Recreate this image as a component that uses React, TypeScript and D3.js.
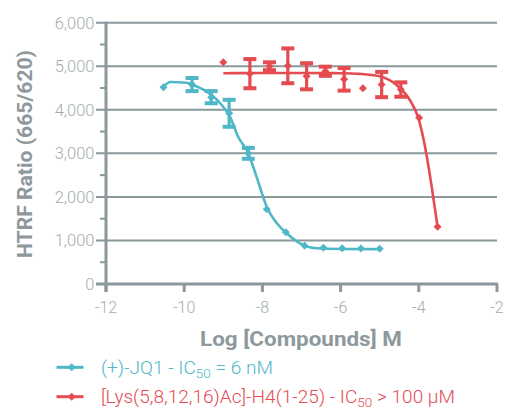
import React from "react";
import * as d3 from "d3";

// ---- data ----
const jq1X = [-10.53, -9.8, -9.31, -8.85, -8.36, -7.89, -7.4, -6.92, -6.44, -5.96, -5.48, -5.0];
const jq1Y = [4520, 4580, 4290, 3920, 3000, 1715, 1190, 880, 835, 820, 815, 810];
const jq1Err = [0, 150, 140, 310, 125, 0, 0, 0, 0, 0, 0, 0];
const jq1CurveX = [-10.53, -10.35, -9.94, -9.77, -9.3, -9.04, -8.83, -8.62, -8.36, -8.15, -7.89, -7.63, -7.38, -7.04, -6.61, -6.02, -5.0];
const jq1CurveY = [4540, 4640, 4620, 4570, 4340, 4110, 3842, 3382, 3001, 2464, 1775, 1394, 1164, 935, 820, 804, 800];

const h4X = [-9.0, -8.32, -7.82, -7.35, -6.87, -6.39, -5.91, -5.43, -4.95, -4.46, -3.99, -3.52];
const h4Y = [5090, 4830, 5000, 5010, 4770, 4885, 4700, 4495, 4580, 4465, 3820, 1315];
const h4Err = [0, 335, 90, 400, 300, 105, 260, 0, 290, 165, 0, 0];
const h4CurveX = [-9.0, -8.0, -7.0, -6.0, -5.5, -5.0, -4.57, -4.23, -4.01, -3.84, -3.67, -3.52];
const h4CurveY = [4840, 4845, 4845, 4840, 4825, 4770, 4570, 4225, 3805, 3153, 2234, 1315];

const xTicks = [-12, -10, -8, -6, -4, -2];
const yTicks = [0, 1000, 2000, 3000, 4000, 5000, 6000];
const yMinorTicks = [500, 1500, 2500, 3500, 4500, 5500];

const CYAN = "#4fb7c7";
const RED = "#e44c52";
const AXIS = "#8a989c";
const LABEL = "#a3adb0";
const TITLE = "#8d999c";
const FONT = "Roboto, 'Liberation Sans', sans-serif";

export default function App() {
  const W = 507, H = 409;
  const x = d3.scaleLinear().domain([-12, -2]).range([106, 497]);
  const y = d3.scaleLinear().domain([0, 6000]).range([284, 22.7]);

  const line = d3
    .line<[number, number]>()
    .x((d) => x(d[0]))
    .y((d) => y(d[1]))
    .curve(d3.curveMonotoneX);

  const jq1Curve = jq1CurveX.map((v, i) => [v, jq1CurveY[i]] as [number, number]);
  const h4Curve = h4CurveX.map((v, i) => [v, h4CurveY[i]] as [number, number]);

  const diamond = (cx: number, cy: number, r: number) =>
    `M${cx},${cy - r}L${cx + r},${cy}L${cx},${cy + r}L${cx - r},${cy}Z`;

  const renderSeries = (xs: number[], ys: number[], errs: number[], color: string) =>
    xs.map((xv, i) => {
      const cx = x(xv);
      const cy = y(ys[i]);
      const e = errs[i];
      return (
        <g key={i}>
          <path d={diamond(cx, cy, 4)} fill={color} />
          {e > 0 && (
            <g stroke={color} strokeWidth={3.2}>
              <line x1={cx} x2={cx} y1={y(ys[i] + e)} y2={y(ys[i] - e)} />
              <line x1={cx - 6.5} x2={cx + 6.5} y1={y(ys[i] + e)} y2={y(ys[i] + e)} strokeWidth={4} />
              <line x1={cx - 6.5} x2={cx + 6.5} y1={y(ys[i] - e)} y2={y(ys[i] - e)} strokeWidth={4} />
            </g>
          )}
        </g>
      );
    });

  return (
    <svg width={W} height={H} style={{ position: "absolute", left: 0, top: 0 }} fontFamily={FONT}>
      {/* gridlines */}
      {yTicks.slice(1).map((t) => (
        <line key={t} x1={96} x2={497} y1={y(t)} y2={y(t)} stroke={AXIS} strokeWidth={2} />
      ))}
      {yMinorTicks.map((t) => (
        <line key={t} x1={100} x2={106} y1={y(t)} y2={y(t)} stroke={AXIS} strokeWidth={2} />
      ))}
      {/* x axis */}
      <line x1={96} x2={498} y1={y(0)} y2={y(0)} stroke={AXIS} strokeWidth={3} />
      {xTicks.map((t) => (
        <line key={t} x1={x(t)} x2={x(t)} y1={y(0)} y2={292} stroke={AXIS} strokeWidth={3} />
      ))}
      {/* y axis */}
      <line x1={x(-12)} x2={x(-12)} y1={y(6000) - 1} y2={292} stroke={AXIS} strokeWidth={3} />

      {/* tick labels */}
      {yTicks.map((t) => (
        <text key={t} x={94.5} y={y(t) + 6} textAnchor="end" fontSize={16.5} fill={LABEL} fontWeight={300}>
          {d3.format(",")(t)}
        </text>
      ))}
      {xTicks.map((t) => (
        <text key={t} x={x(t)} y={313} textAnchor="middle" fontSize={16} fill={LABEL} fontWeight={300}>
          {t}
        </text>
      ))}

      {/* axis titles */}
      <text x={301} y={345.5} textAnchor="middle" fontSize={21} fontWeight={700} fill={TITLE}
        textLength={202} lengthAdjust="spacingAndGlyphs">
        Log [Compounds] M
      </text>
      <text transform="translate(32,154) rotate(-90)" textAnchor="middle" fontSize={21} fontWeight={700}
        fill={TITLE} textLength={208} lengthAdjust="spacingAndGlyphs">
        HTRF Ratio (665/620)
      </text>

      {/* curves */}
      <path d={line(jq1Curve) || ""} fill="none" stroke={CYAN} strokeWidth={2.6} />
      <path d={line(h4Curve) || ""} fill="none" stroke={RED} strokeWidth={2.6} />
      {renderSeries(jq1X, jq1Y, jq1Err, CYAN)}
      {renderSeries(h4X, h4Y, h4Err, RED)}

      {/* legend */}
      <g>
        <line x1={56.5} x2={83.5} y1={367.3} y2={367.3} stroke={CYAN} strokeWidth={3} />
        <path d={diamond(71.7, 367.3, 4)} fill={CYAN} />
        <text x={101} y={374} fontSize={19} fill={CYAN} fontWeight={300}
          textLength={172} lengthAdjust="spacingAndGlyphs">
          (+)-JQ1 - IC<tspan fontSize={13.5} dy={4}>50</tspan><tspan dy={-4}> = 6 nM</tspan>
        </text>
        <line x1={56.5} x2={83.5} y1={396.7} y2={396.7} stroke={RED} strokeWidth={3} />
        <path d={diamond(71.7, 396.7, 4)} fill={RED} />
        <text x={101} y={403.4} fontSize={19} fill={RED} fontWeight={300}
          textLength={354} lengthAdjust="spacingAndGlyphs">
          [Lys(5,8,12,16)Ac]-H4(1-25) - IC<tspan fontSize={13.5} dy={4}>50</tspan><tspan dy={-4}> &gt; 100 µM</tspan>
        </text>
      </g>
    </svg>
  );
}
